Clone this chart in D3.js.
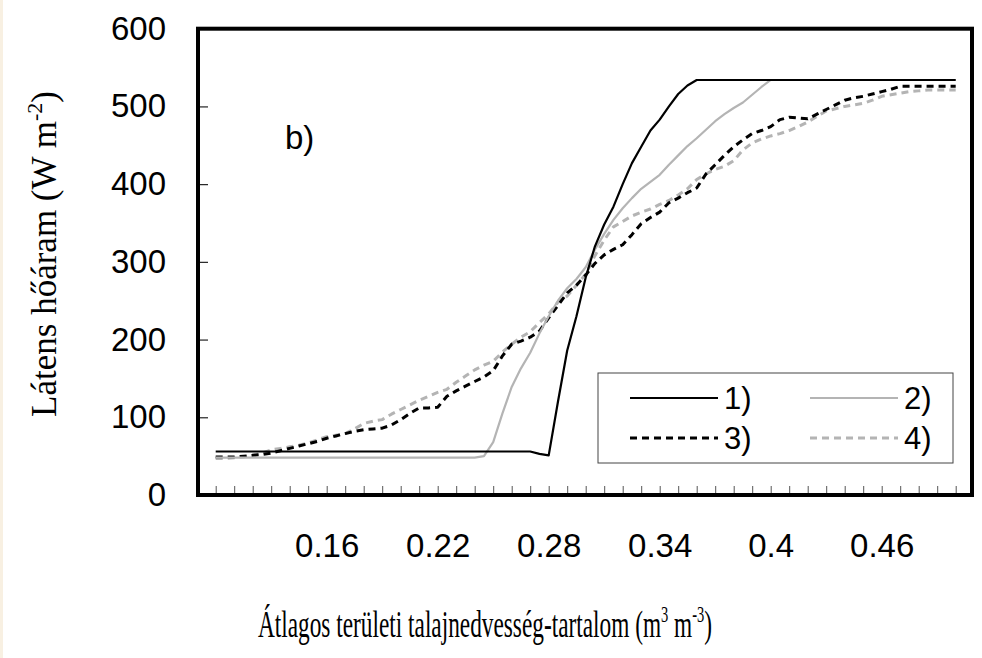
<!DOCTYPE html>
<html>
<head>
<meta charset="utf-8">
<script src="https://cdn.jsdelivr.net/npm/d3@7"></script>
<style>
  html, body { margin: 0; padding: 0; background: #ffffff; }
  svg { display: block; }
</style>
</head>
<body>
<svg id="chart" width="982" height="658"></svg>
<script>
// ---- data ----
const xStart = 0.10, xStep = 0.005, nPoints = 81;
const soilMoisture = d3.range(nPoints).map(i => +(xStart + i * xStep).toFixed(3));

const series1 = [
  56,56,56,56,56,56,56,56,56,56,
  56,56,56,56,56,56,56,56,56,56,
  56,56,56,56,56,56,56,56,56,56,
  56,56,56,56,56,53,51,120,186,230,
  280,320,348,371,400,427,448,469,483,500,
  516,527,534,534,534,534,534,534,534,534,
  534,534,534,534,534,534,534,534,534,534,
  534,534,534,534,534,534,534,534,534,534,
  534];
const series2 = [
  48,48,48,48,48,48,48,48,48,48,
  48,48,48,48,48,48,48,48,48,48,
  48,48,48,48,48,48,48,48,48,50,
  68,105,139,163,183,208,230,250,266,278,
  293,316,336,354,369,382,394,403,412,425,
  437,449,459,470,481,490,498,505,515,525,
  534,534,534,534,534,534,534,534,534,534,
  534,534,534,534,534,534,534,534,534,534,
  534];
const series3 = [
  49,49,49,50,51,52,54,57,60,63,
  66,69,73,76,79,82,84,85,86,90,
  97,105,112,112,113,127,134,140,146,152,
  160,179,194,198,203,211,228,244,260,270,
  283,298,309,316,322,335,349,357,364,376,
  382,389,395,413,425,437,448,457,465,469,
  474,483,486,485,484,490,496,502,508,511,
  513,516,519,522,526,526,526,526,526,526,
  526];
const series4 = [
  47,47,48,49,51,54,58,60,62,64,
  67,71,75,77,79,85,92,95,97,104,
  110,116,122,127,132,136,145,153,161,167,
  172,184,194,203,210,222,233,248,256,270,
  284,308,328,345,352,359,364,368,374,379,
  386,394,406,413,419,423,430,444,453,458,
  462,465,469,474,480,487,494,497,500,502,
  504,508,513,515,517,519,520,521,521,521,
  521];

const seriesNames = ["1)", "2)", "3)", "4)"];
const xMinorTicks = d3.range(41).map(i => +(0.10 + i * 0.01).toFixed(2));
const xTickValues = [0.16, 0.22, 0.28, 0.34, 0.40, 0.46];
const xTickLabels = ["0.16", "0.22", "0.28", "0.34", "0.4", "0.46"];
const yTickValues = [0, 100, 200, 300, 400, 500, 600];
const panelLabel = "b)";
const xTitle = "Átlagos területi talajnedvesség-tartalom (m";
const yTitle = "Látens hőáram (W m";

// ---- layout ----
const svg = d3.select("#chart");
const plot = { left: 198, top: 28.7, right: 972, bottom: 495 };
const x = d3.scaleLinear().domain([0.10, 0.50]).range([215.7, 955.7]);
const y = d3.scaleLinear().domain([0, 600]).range([plot.bottom, plot.top]);
const sans = "'Liberation Sans', Arial, sans-serif";
const serif = "'Liberation Serif', 'Times New Roman', serif";

svg.append("rect").attr("x", 0).attr("y", 0).attr("width", 3).attr("height", 658).attr("fill", "#f8f0e2");

// x minor ticks (inside)
const gxMinor = svg.append("g").attr("transform", `translate(0,${plot.bottom})`)
  .call(d3.axisBottom(x).tickValues(xMinorTicks).tickSize(-9).tickFormat(""));
gxMinor.select(".domain").remove();
gxMinor.selectAll(".tick line").attr("stroke", "#555").attr("stroke-width", 1);

// x labels
const gxLab = svg.append("g").attr("transform", `translate(0,${plot.bottom})`)
  .call(d3.axisBottom(x).tickValues(xTickValues).tickSize(0).tickPadding(39)
    .tickFormat((d, i) => xTickLabels[i]));
gxLab.select(".domain").remove();
gxLab.selectAll("text").attr("font-family", sans).attr("font-size", 33).attr("fill", "#000");

// y axis
const gy = svg.append("g").attr("transform", `translate(${plot.left},0)`)
  .call(d3.axisLeft(y).tickValues(yTickValues).tickSize(-10).tickPadding(32));
gy.select(".domain").remove();
gy.selectAll(".tick line").attr("stroke", "#222").attr("stroke-width", 1.2);
gy.selectAll("text").attr("font-family", sans).attr("font-size", 33).attr("fill", "#000");

// lines
const styles = [
  { color: "#000000", width: 2.2, dash: null },
  { color: "#b4b4b4", width: 2.2, dash: null },
  { color: "#000000", width: 3, dash: "7,5" },
  { color: "#b4b4b4", width: 3, dash: "7,5" }
];
const allSeries = [series1, series2, series3, series4];
const line = d3.line().x(d => x(d[0])).y(d => y(d[1]));
[3, 2, 1, 0].forEach(k => {
  const pts = soilMoisture.map((v, i) => [v, allSeries[k][i]]);
  svg.append("path").datum(pts).attr("d", line)
    .attr("fill", "none").attr("stroke", styles[k].color)
    .attr("stroke-width", styles[k].width)
    .attr("stroke-dasharray", styles[k].dash)
    .attr("stroke-linejoin", "round");
});

// frame
svg.append("rect").attr("x", plot.left).attr("y", plot.top)
  .attr("width", plot.right - plot.left).attr("height", plot.bottom - plot.top)
  .attr("fill", "none").attr("stroke", "#000").attr("stroke-width", 4);

// panel label
svg.append("text").attr("x", 285).attr("y", 149).attr("font-family", sans)
  .attr("font-size", 33).text(panelLabel);

// legend
const lg = svg.append("g");
lg.append("rect").attr("x", 598).attr("y", 373).attr("width", 355).attr("height", 90)
  .attr("fill", "#fff").attr("stroke", "#444").attr("stroke-width", 1);
const legPos = [[630, 398], [810, 398], [630, 438], [810, 438]];
seriesNames.forEach((name, k) => {
  const [lx, ly] = legPos[k];
  lg.append("line").attr("x1", lx).attr("x2", lx + 88).attr("y1", ly).attr("y2", ly)
    .attr("stroke", styles[k].color).attr("stroke-width", styles[k].width)
    .attr("stroke-dasharray", styles[k].dash);
  lg.append("text").attr("x", lx + 94).attr("y", ly + 11).attr("font-family", sans)
    .attr("font-size", 31).text(name);
});

// axis titles (horizontally condensed like the original)
const xt = svg.append("text").attr("transform", "translate(485,637) scale(0.63,1)")
  .attr("text-anchor", "middle").attr("font-family", serif).attr("font-size", 37);
xt.append("tspan").text(xTitle);
xt.append("tspan").attr("dy", -15).attr("font-size", 23).text("3");
xt.append("tspan").attr("dy", 15).text(" m");
xt.append("tspan").attr("dy", -15).attr("font-size", 23).text("-3");
xt.append("tspan").attr("dy", 15).text(")");

const yt = svg.append("text").attr("transform", "translate(56,254) rotate(-90)")
  .attr("text-anchor", "middle").attr("font-family", serif).attr("font-size", 35);
yt.append("tspan").text(yTitle);
yt.append("tspan").attr("dy", -14).attr("font-size", 22).text("-2");
yt.append("tspan").attr("dy", 14).text(")");
</script>
</body>
</html>
